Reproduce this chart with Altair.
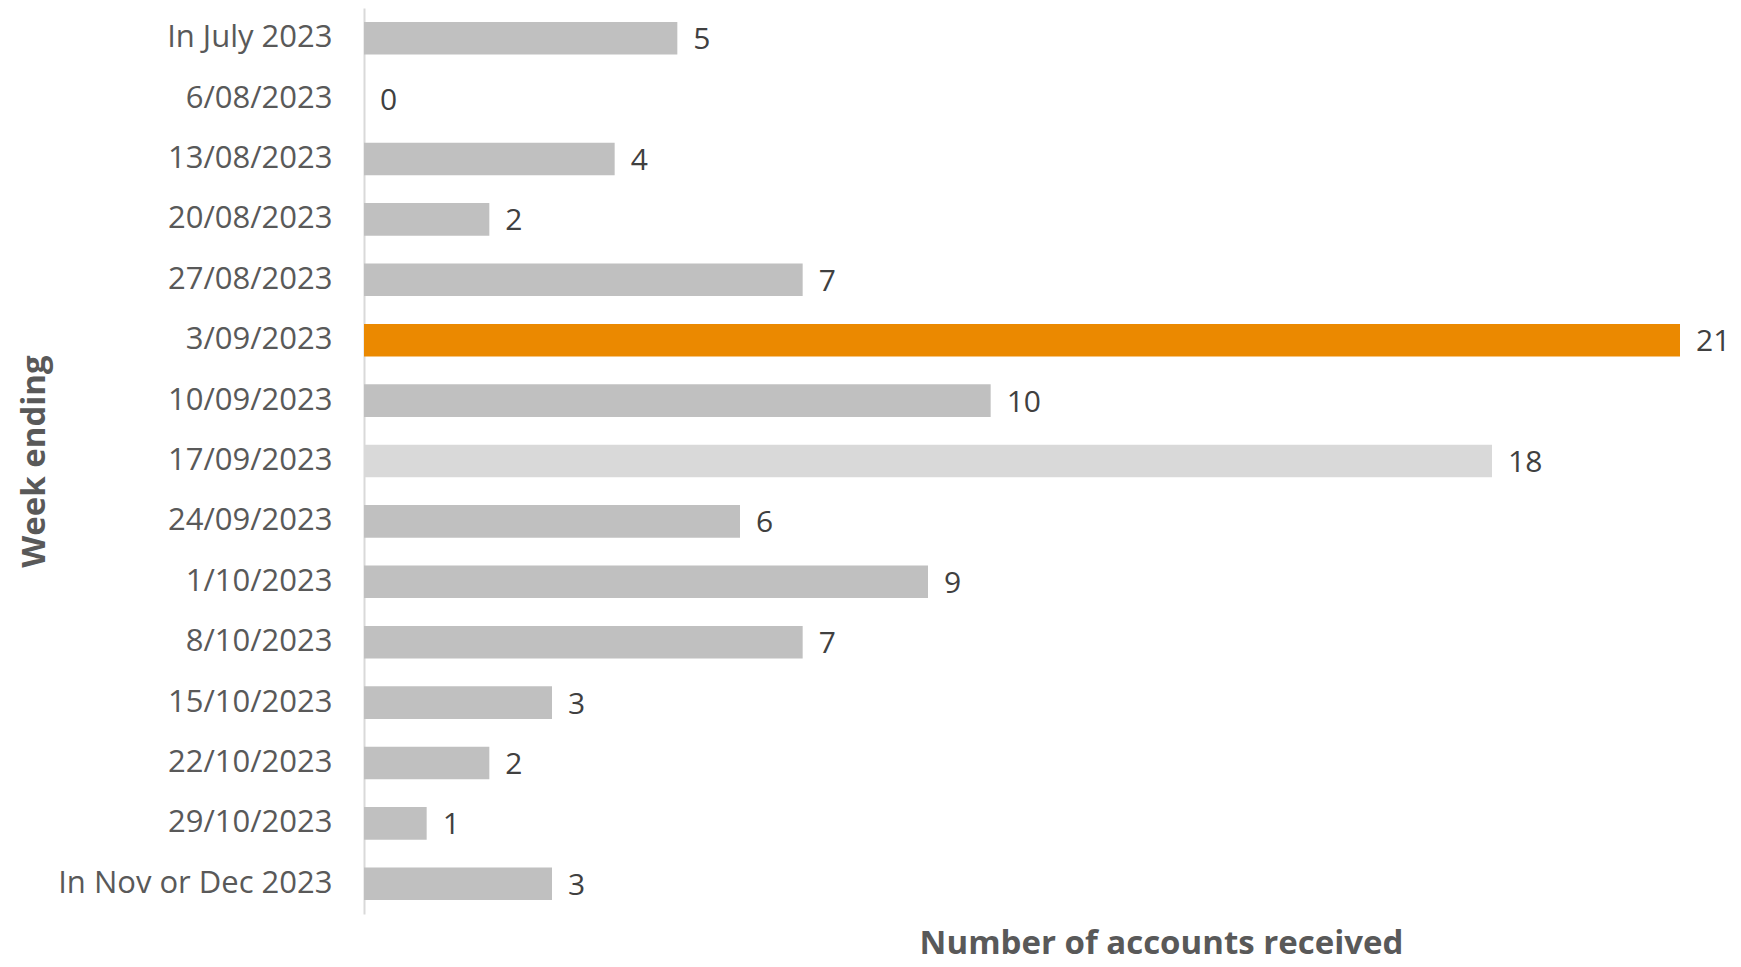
import altair as alt
import pandas as pd

weeks = ["In July 2023", "6/08/2023", "13/08/2023", "20/08/2023", "27/08/2023",
         "3/09/2023", "10/09/2023", "17/09/2023", "24/09/2023", "1/10/2023",
         "8/10/2023", "15/10/2023", "22/10/2023", "29/10/2023", "In Nov or Dec 2023"]
accounts = [5, 0, 4, 2, 7, 21, 10, 18, 6, 9, 7, 3, 2, 1, 3]
bar_colors = ["#c0c0c0", "#c0c0c0", "#c0c0c0", "#c0c0c0", "#c0c0c0",
              "#eb8900", "#c0c0c0", "#d9d9d9", "#c0c0c0", "#c0c0c0",
              "#c0c0c0", "#c0c0c0", "#c0c0c0", "#c0c0c0", "#c0c0c0"]

df = pd.DataFrame({"week": weeks, "n": accounts, "color": bar_colors})

FONT = "Open Sans"
W, H = 1316, 906

y_enc = alt.Y("week:N", sort=weeks,
              scale=alt.Scale(paddingInner=0.46, paddingOuter=0.23),
              axis=alt.Axis(title="Week ending", labelFont=FONT, labelFontSize=31,
                            labelColor="#595959", labelPadding=32, labelLimit=0,
                            ticks=False, domainColor="#d9d9d9", domainWidth=2,
                            titleFont=FONT, titleFontSize=33, titleFontWeight="bold",
                            titleColor="#595959", titleAngle=-90, titleX=-330,
                            titleY=H / 2, titleAlign="center", titleBaseline="middle"))
x_enc = alt.X("n:Q", scale=alt.Scale(domain=[0, 21], nice=False),
              axis=alt.Axis(title="Number of accounts received", labels=False,
                            ticks=False, domain=False, grid=False,
                            titleFont=FONT, titleFontSize=33, titleFontWeight="bold",
                            titleColor="#595959", titleX=797, titleY=29,
                            titleAlign="center", titleBaseline="middle"))

bars = alt.Chart(df).mark_bar().encode(
    x=x_enc, y=y_enc, color=alt.Color("color:N", scale=None))
labels = alt.Chart(df).mark_text(align="left", baseline="middle", dx=16, dy=2,
                                 font=FONT, fontSize=30, color="#404040").encode(
    x="n:Q", y=alt.Y("week:N", sort=weeks), text="n:Q")

chart = (bars + labels).properties(
    width=W, height=H,
    autosize=alt.AutoSizeParams(type="none"),
    padding={"left": 356, "top": 0, "right": 52, "bottom": 53},
).configure_view(stroke=None)

chart.save("out.html", embed_options={"renderer": "svg", "actions": False})
